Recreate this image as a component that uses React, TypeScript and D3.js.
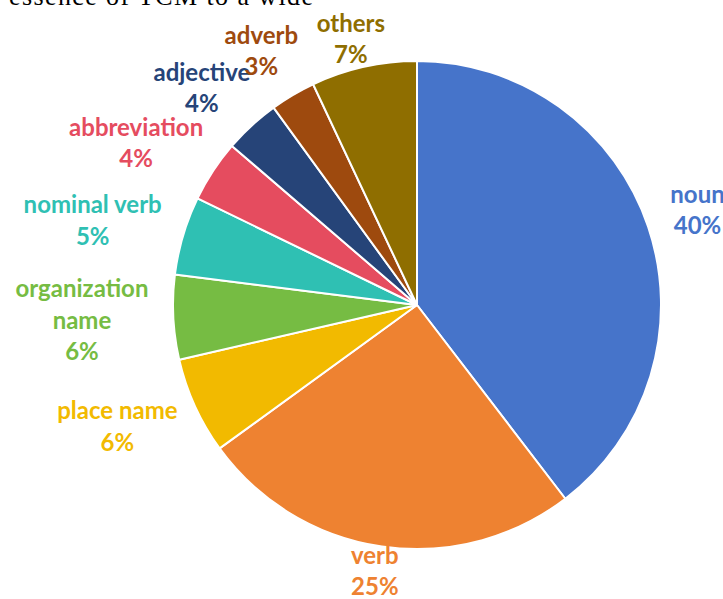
import React, { useMemo } from "react";
import * as d3 from "d3";

const categories = [
  "noun",
  "verb",
  "place name",
  "organization name",
  "nominal verb",
  "abbreviation",
  "adjective",
  "adverb",
  "others",
];
const values = [39.6, 25.4, 6.4, 5.6, 5.2, 4.1, 3.7, 3.0, 7.0];
const colors = [
  "#4674CA",
  "#EE8231",
  "#F2BA00",
  "#76BC43",
  "#2FC0B3",
  "#E54C5F",
  "#264478",
  "#9E4A0E",
  "#8F6E00",
];
const headerText = "essence of TCM to a wide";

const W = 723;
const H = 599;
const CX = 417;
const CY = 305;
const RADIUS = 244;
const LABEL_R = 269;
const FONT_SIZE = 24;
const LINE_H = 31.5;
const FONT = `bold ${FONT_SIZE}px Lato`;
const WRAP_W = 155;

export default function App() {
  const measure = useMemo(() => {
    const c = document.createElement("canvas");
    const ctx = c.getContext("2d")!;
    ctx.font = FONT;
    return (s: string) => ctx.measureText(s).width;
  }, []);

  const total = d3.sum(values);
  const pie = d3
    .pie<number>()
    .sort(null)
    .value((d) => d)
    .startAngle(0)
    .endAngle(2 * Math.PI);
  const arcs = pie(values);
  const arcGen = d3.arc<d3.PieArcDatum<number>>().innerRadius(0).outerRadius(RADIUS);
  const fmt = (v: number) => `${Math.round((v / total) * 100)}%`;

  const wrap = (name: string) => {
    const words = name.split(" ");
    const lines: string[] = [];
    let cur = "";
    words.forEach((w) => {
      const t = cur ? cur + " " + w : w;
      if (cur && measure(t) > WRAP_W) {
        lines.push(cur);
        cur = w;
      } else cur = t;
    });
    if (cur) lines.push(cur);
    return lines;
  };

  const labels = arcs.map((a, i) => {
    const lines = [...wrap(categories[i]), fmt(values[i])];
    const w = d3.max(lines, (l) => measure(l)) ?? 0;
    const h = lines.length * LINE_H;
    const theta = (a.startAngle + a.endAngle) / 2;
    const ux = Math.sin(theta);
    const uy = -Math.cos(theta);
    let x = CX + (LABEL_R + w / 2) * ux;
    let y = CY + (LABEL_R + h / 2 - 6) * uy;
    y = Math.max(8 + h / 2, Math.min(603 - h / 2, y));
    return { lines, x, y, color: colors[i] };
  });

  return (
    <svg
      width={W}
      height={H}
      style={{ position: "absolute", left: 0, top: 0, background: "#fff" }}
    >
      <text
        x={9}
        y={5}
        fontFamily="'Liberation Serif', serif"
        fontSize={26}
        textLength={304}
        lengthAdjust="spacing"
        fill="#000"
      >
        {headerText}
      </text>
      <g transform={`translate(${CX},${CY})`}>
        {arcs.map((a, i) => (
          <path
            key={i}
            d={arcGen(a) ?? ""}
            fill={colors[i]}
            stroke="#fff"
            strokeWidth={2}
            strokeLinejoin="round"
          />
        ))}
      </g>
      {labels.map((lb, i) => (
        <text
          key={i}
          fontFamily="Lato, sans-serif"
          fontWeight="bold"
          fontSize={FONT_SIZE}
          fill={lb.color}
          textAnchor="middle"
        >
          {lb.lines.map((l, j) => (
            <tspan
              key={j}
              x={lb.x}
              y={lb.y + (j - (lb.lines.length - 1) / 2) * LINE_H + 8}
            >
              {l}
            </tspan>
          ))}
        </text>
      ))}
    </svg>
  );
}
